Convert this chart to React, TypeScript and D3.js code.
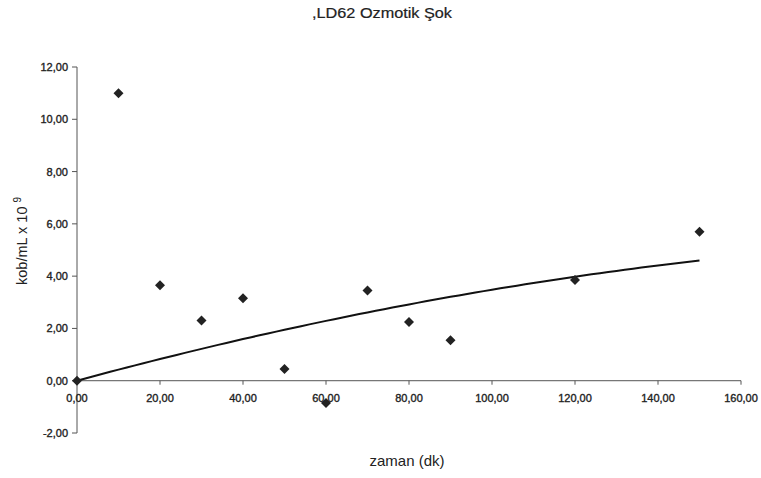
import * as d3 from "d3";

const zaman = [0, 10, 20, 30, 40, 50, 60, 70, 80, 90, 120, 150];
const kob = [0, 11.0, 3.65, 2.3, 3.15, 0.45, -0.85, 3.45, 2.25, 1.55, 3.85, 5.7];
const xTicks = [0, 20, 40, 60, 80, 100, 120, 140, 160];
const yTicks = [-2, 0, 2, 4, 6, 8, 10, 12];

const W = 761;
const H = 478;

// 2nd order polynomial trendline through the origin, least squares on the points
function fitTrend(xs: number[], ys: number[]) {
  let s2 = 0, s3 = 0, s4 = 0, sxy = 0, sx2y = 0;
  xs.forEach((x, i) => {
    s2 += x * x;
    s3 += x * x * x;
    s4 += x * x * x * x;
    sxy += x * ys[i];
    sx2y += x * x * ys[i];
  });
  const det = s2 * s4 - s3 * s3;
  const a = (sxy * s4 - s3 * sx2y) / det;
  const b = (s2 * sx2y - s3 * sxy) / det;
  return (x: number) => a * x + b * x * x;
}

const fmt = (v: number) => d3.format(".2f")(v).replace(".", ",").replace("\u2212", "-");

export default function App() {
  const x = d3.scaleLinear().domain([0, 160]).range([77, 741]);
  const y = d3.scaleLinear().domain([-2, 12]).range([433, 67]);

  const trend = fitTrend(zaman, kob);
  const trendX = d3.range(0, 150.01, 2);
  const line = d3
    .line<number>()
    .x((d) => x(d))
    .y((d) => y(trend(d)));

  const diamond = d3.symbol().type(d3.symbolDiamond2).size(64)();

  return (
    <svg
      width={W}
      height={H}
      style={{ position: "absolute", left: 0, top: 0, background: "#fff" }}
      fontFamily="Liberation Sans, Arial, sans-serif"
    >
      <rect width={W} height={H} fill="#fff" />
      <text x={382} y={18} textAnchor="middle" fontSize={14} fill="#222" stroke="#222" strokeWidth={0.2} textLength={140} lengthAdjust="spacingAndGlyphs">
        ,LD62 Ozmotik Şok
      </text>

      {/* y axis */}
      <line x1={x(0)} x2={x(0)} y1={y(12)} y2={y(-2)} stroke="#555" strokeWidth={1} />
      {yTicks.map((t) => (
        <g key={t}>
          <line x1={x(0) - 5} x2={x(0)} y1={y(t)} y2={y(t)} stroke="#555" />
          <text x={x(0) - 9} y={y(t) + 4} textAnchor="end" fontSize={11} fill="#222" stroke="#222" strokeWidth={0.35}>
            {fmt(t)}
          </text>
        </g>
      ))}

      {/* x axis */}
      <line x1={x(0)} x2={x(160)} y1={y(0)} y2={y(0)} stroke="#555" strokeWidth={1} />
      {xTicks.map((t) => (
        <g key={t}>
          <line x1={x(t)} x2={x(t)} y1={y(0)} y2={y(0) + 4} stroke="#555" />
          <text x={x(t)} y={y(0) + 21} textAnchor="middle" fontSize={11} fill="#222" stroke="#222" strokeWidth={0.35}>
            {fmt(t)}
          </text>
        </g>
      ))}

      <text x={407} y={466} textAnchor="middle" fontSize={15} fill="#222">
        zaman (dk)
      </text>
      <text transform="translate(27,241) rotate(-90)" textAnchor="middle" fontSize={14.5} fill="#222">
        kob/mL x 10
        <tspan dx={4} dy={-6} fontSize={10}>
          9
        </tspan>
      </text>

      <path d={line(trendX) ?? ""} fill="none" stroke="#111" strokeWidth={2} />

      {zaman.map((z, i) => (
        <path key={z} d={diamond ?? ""} transform={`translate(${x(z)},${y(kob[i])})`} fill="#222" />
      ))}
    </svg>
  );
}
